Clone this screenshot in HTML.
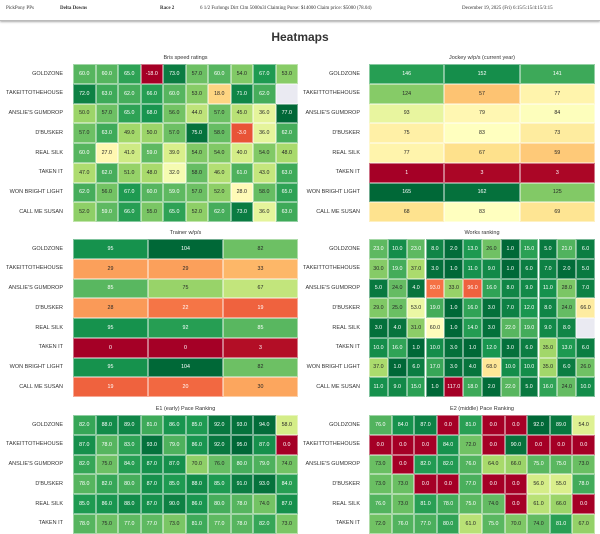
<!DOCTYPE html>
<html><head><meta charset="utf-8"><style>
body{margin:0;width:600px;height:528px;overflow:hidden;background:#fff;position:relative;font-family:"Liberation Sans",sans-serif}
.hdr{position:absolute;top:0;left:0;width:600px;height:20px;border-bottom:1px solid #bbb;box-shadow:0 1px 2px #aaa;font-family:"Liberation Serif",serif;font-size:5px;color:#333}
.hdr span{position:absolute;top:6px;white-space:nowrap}
.h1{position:absolute;top:30px;width:600px;text-align:center;font-size:12px;font-weight:bold;color:#333}
.t{position:absolute;font-size:5.5px;color:#333;text-align:center;white-space:nowrap}
.lab{position:absolute;font-size:5.5px;color:#333;text-align:right;white-space:nowrap}
.c{position:absolute;box-sizing:border-box;border:0.5px solid rgba(255,255,255,0.45);font-size:5.3px;display:flex;align-items:center;justify-content:center}
</style></head><body>
<div class="hdr"><span style="left:6px">PickPony PPs</span><span style="left:60px;font-weight:bold">Delta Downs</span><span style="left:160px;font-weight:bold">Race 2</span><span style="left:200px">6 1/2 Furlongs Dirt Clm 5000n3l Claiming Purse: $14000 Claim price: $5000 (78.04)</span><span style="left:462px">December 19, 2025 (Fri) 6:15/5:15/4:15/3:15</span></div>
<div class="h1">Heatmaps</div>
<div id="root"></div>
<script>
const stops=["#a50026","#d73027","#f46d43","#fdae61","#fee08b","#ffffbf","#d9ef8b","#a6d96a","#66bd63","#1a9850","#006837"].map(h=>[1,3,5].map(i=>parseInt(h.substr(i,2),16)));
function col(t){t=Math.max(0,Math.min(1,t));let f=t*10,i=Math.min(9,Math.floor(f)),r=f-i;return stops[i].map((v,k)=>Math.round(v+(stops[i+1][k]-v)*r));}
const names=["GOLDZONE","TAKEITTOTHEHOUSE","ANSLIE'S GUMDROP","D'BUSKER","REAL SILK","TAKEN IT","WON BRIGHT LIGHT","CALL ME SUSAN"];
function hm(title,x0,x1,y0,data,dec,rev,lx){
 const root=document.body;let h='';
 h+=`<div class="t" style="left:${x0}px;width:${x1-x0}px;top:${y0-9}px">${title}</div>`;
 let vals=data.flat().filter(v=>v!==null),mn=Math.min(...vals),mx=Math.max(...vals);
 const rh=19.75;
 data.forEach((row,r)=>{
  const y=y0+r*rh;
  h+=`<div class="lab" style="left:0;width:${lx}px;top:${y+6.5}px">${names[r]}</div>`;
  const n=row.length,cw=(x1-x0)/n;
  row.forEach((v,c)=>{
   let bg,fg='#222',txt='';
   if(v===null){bg='#eaeaf2';}
   else{let t=(v-mn)/(mx-mn);if(rev)t=1-t;const cc=col(t);bg=`rgb(${cc})`;
    const L=0.299*cc[0]+0.587*cc[1]+0.114*cc[2];fg=L<150?'#fff':'#262626';txt=dec?v.toFixed(1):v;}
   h+=`<div class="c" style="left:${x0+c*cw}px;top:${y}px;width:${cw}px;height:${rh}px;background:${bg};color:${fg}">${txt}</div>`;
  });
 });
 root.insertAdjacentHTML('beforeend',h);
}
const N=null;
hm("Bris speed ratings",73,298,64,[
[60,60,65,-18,73,57,60,54,67,53],[72,63,62,66,60,53,18,71,62,N],[50,57,65,68,56,44,57,45,36,77],[57,63,49,50,57,75,58,-3,36,62],[60,27,41,59,39,54,54,40,54,48],[47,62,51,48,32,58,46,61,43,63],[62,56,67,60,59,57,52,28,58,65],[52,59,66,55,65,52,62,73,36,63]],true,false,63);
hm("Jockey w/p/s (current year)",369,595,64,[[146,152,141],[124,57,77],[93,79,84],[75,83,73],[77,67,59],[1,3,3],[165,162,125],[68,83,69]],false,false,360);
hm("Trainer w/p/s",73,298,239,[[95,104,82],[29,29,33],[85,75,67],[28,22,19],[95,92,85],[0,0,3],[95,104,82],[19,20,30]],false,false,63);
hm("Works ranking",369,595,239,[
[23,10,23,8,2,13,26,1,15,5,21,6],[30,19,37,3,1,11,9,1,6,7,2,5],[5,24,4,93,33,96,16,8,9,11,28,7],[29,25,53,19,1,16,3,7,12,8,24,66],[3,4,31,60,1,14,3,22,19,9,8,N],[10,16,1,10,3,1,12,3,6,35,13,6],[37,1,6,17,3,4,68,10,10,35,6,26],[11,9,15,1,117,18,2,22,5,16,24,10]],true,true,360);
hm("E1 (early) Pace Ranking",73,298,415,[
[82,88,89,81,86,85,92,93,94,58],[87,78,83,93,79,86,92,95,87,0],[82,75,84,87,87,70,76,80,79,74],[78,82,80,87,85,88,85,91,93,84],[85,86,88,87,90,86,80,78,74,87],[78,75,77,77,73,81,77,78,82,73]],true,false,63);
hm("E2 (middle) Pace Ranking",369,595,415,[
[76,84,87,0,81,0,0,92,89,54],[0,0,0,84,72,0,90,0,0,0],[73,0,82,82,76,64,66,75,75,73],[73,73,0,0,77,0,0,56,55,78],[76,73,81,78,75,74,0,61,66,0],[72,76,77,80,61,75,70,74,81,67]],true,false,360);
</script>
</body></html>
